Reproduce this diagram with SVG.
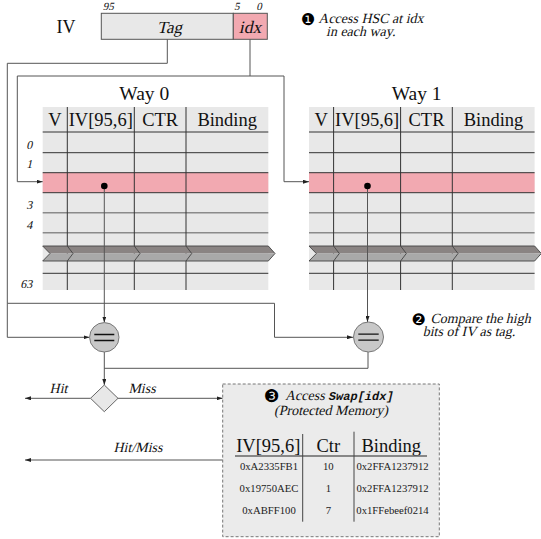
<svg xmlns="http://www.w3.org/2000/svg" width="541" height="539" viewBox="0 0 541 539">
<defs>
<marker id="ah" viewBox="0 0 6 4" refX="6" refY="2" markerWidth="6" markerHeight="4" orient="auto" markerUnits="userSpaceOnUse"><path d="M0,0 L6,2 L0,4 z" fill="#222"/></marker>
<g id="chev">
<polygon points="0,246 225.6,246 232.3,253.5 7.3,253.5" fill="#8a8483"/>
<polygon points="7.3,253.5 232.3,253.5 225.6,261 0,261" fill="#a9a9a9"/>
<path d="M0,246 H225.6 L232.3,253.5 L225.6,261 H0 L7.3,253.5 Z M24.6,246 L30.3,253.5 L24.6,261 M91.6,246 L97.3,253.5 L91.6,261 M143.3,246 L149,253.5 L143.3,261" fill="none" stroke="#444" stroke-width="0.9"/>
</g>
<g id="table">
<rect x="0" y="107" width="225.6" height="183" fill="#e8e8e8"/>
<rect x="0" y="172.7" width="225.6" height="20" fill="#f2a9b1"/>
<path class="dk" d="M0,132 H225.6 M0,152.7 H225.6 M0,172.7 H225.6 M0,192.7 H225.6 M0,273.3 H225.6"/>
<path class="gr" d="M0,212.7 H225.6 M0,232.7 H225.6"/>
<path class="dk" d="M24.6,107 V290 M91.6,107 V290 M143.3,107 V290"/>
<use href="#chev"/>
<text class="hd" x="12.3" y="126">V</text>
<text class="hd" x="58.1" y="126">IV[95,6]</text>
<text class="hd" x="117.5" y="126">CTR</text>
<text class="hd" x="184.5" y="126">Binding</text>
</g>
</defs>
<style>
.dk{stroke:#333;stroke-width:1;fill:none}
.gr{stroke:#8a8a8a;stroke-width:1.4;fill:none}
.hd{font-family:"Liberation Serif",serif;font-size:18.5px;text-anchor:middle;fill:#111}
.it{font-family:"Liberation Serif",serif;fill:#111}
.rm{font-family:"Liberation Serif",serif;fill:#111}
.num{font-family:"DejaVu Sans",sans-serif;fill:#000}
.con{stroke:#555;stroke-width:1;fill:none}
.arr{stroke:#555;stroke-width:1;fill:none;marker-end:url(#ah)}
.cell{font-family:"Liberation Serif",serif;font-size:10.7px;text-anchor:middle;fill:#222}
.mid{text-anchor:middle}
.end{text-anchor:end}
</style>

<g id="iv-register">
<text class="rm" x="66" y="33" font-size="18" text-anchor="middle">IV</text>
<rect x="101.3" y="13.3" width="132" height="26" fill="#e8e8e8" stroke="#555" stroke-width="1"/>
<rect x="233.3" y="13.3" width="34" height="26" fill="#f2a9b1" stroke="#555" stroke-width="1"/>
<text class="it mid" transform="translate(169.5,33) skewX(-13)" font-size="17">Tag</text>
<text class="it mid" transform="translate(250,33) skewX(-13)" font-size="17.5">idx</text>
<text class="it mid" transform="translate(108.3,9.5) skewX(-13)" font-size="11">95</text>
<text class="it mid" transform="translate(236.8,9.5) skewX(-13)" font-size="11">5</text>
<text class="it mid" transform="translate(259,9.5) skewX(-13)" font-size="11">0</text>
</g>

<g id="annotation-1">
<text x="301" y="25" class="num" font-size="16">❶</text>
<text class="it" transform="translate(318.3,22.5) skewX(-13)" font-size="14">Access HSC at idx</text>
<text class="it" transform="translate(326,35.5) skewX(-13)" font-size="14">in each way.</text>
</g>

<g id="way0">
<text class="rm" x="144.3" y="100" font-size="19.5" text-anchor="middle">Way 0</text>
<use href="#table" x="42.7"/>
<text class="it end" transform="translate(32.3,149) skewX(-13)" font-size="12">0</text>
<text class="it end" transform="translate(32.3,168) skewX(-13)" font-size="12">1</text>
<text class="it end" transform="translate(32.3,208.5) skewX(-13)" font-size="12">3</text>
<text class="it end" transform="translate(32.3,229) skewX(-13)" font-size="12">4</text>
<text class="it end" transform="translate(32.3,288) skewX(-13)" font-size="12">63</text>
</g>

<g id="way1">
<text class="rm" x="416.7" y="100" font-size="19.5" text-anchor="middle">Way 1</text>
<use href="#table" x="309"/>
</g>

<g id="connectors">
<path class="con" d="M167.3,39.3 V63.3 H7.3 V303.3 H274.5 V337.3"/>
<path class="arr" d="M7.3,303.3 V337.3 H89.5"/>
<path class="arr" d="M274.5,337.3 H353"/>
<path class="con" d="M250,39.3 V76 H17.3 M250,76 H284"/>
<path class="arr" d="M17.3,76 V181.7 H42.7"/>
<path class="arr" d="M284,76 V181.7 H309"/>
<path class="arr" d="M104.3,186 V322.5"/>
<path class="arr" d="M367.5,186 V322"/>
<path class="arr" d="M104.3,352 V385"/>
<path class="con" d="M368,352 V368.3 H104.3"/>
<path class="arr" d="M90.5,398.3 H25"/>
<path class="arr" d="M118,398.3 H222.7"/>
<path class="arr" d="M222.7,460 H25"/>
<circle cx="104.3" cy="186" r="3.3" fill="#000"/>
<circle cx="367.5" cy="186" r="3.3" fill="#000"/>
<text class="it mid" transform="translate(58.5,393.3) skewX(-13)" font-size="14">Hit</text>
<text class="it mid" transform="translate(142,393.3) skewX(-13)" font-size="14">Miss</text>
<text class="it mid" transform="translate(138,451.7) skewX(-13)" font-size="14">Hit/Miss</text>
</g>

<g id="cmp0">
<circle cx="104.3" cy="337.3" r="14.7" fill="#c8c8c8" stroke="#777" stroke-width="1"/>
<path d="M94.3,334.5 H114.3 M94.3,340.5 H114.3" stroke="#111" stroke-width="1.3"/>
</g>

<g id="cmp1">
<circle cx="368.5" cy="337" r="15" fill="#c8c8c8" stroke="#777" stroke-width="1"/>
<path d="M358.3,334.2 H378.7 M358.3,340.2 H378.7" stroke="#111" stroke-width="1.3"/>
</g>

<g id="annotation-2">
<text x="411.5" y="325" class="num" font-size="16">❷</text>
<text class="it" transform="translate(430.5,322.8) skewX(-13)" font-size="14">Compare the high</text>
<text class="it" transform="translate(422.7,336.3) skewX(-13)" font-size="14">bits of IV as tag.</text>
</g>

<g id="decision">
<polygon points="104.3,385 118,398.3 104.3,411.7 90.5,398.3" fill="#e8e8e8" stroke="#666" stroke-width="1"/>
</g>

<g id="swap-box">
<rect x="222.7" y="384" width="216.6" height="152.7" fill="#ebebeb" stroke="#777" stroke-width="1" stroke-dasharray="3,2"/>
<text x="264" y="402" class="num" font-size="17.5">❸</text>
<text class="it" transform="translate(285,399.5) skewX(-13)" font-size="14">Access <tspan font-family="'Liberation Mono',monospace" font-weight="bold" font-size="12">Swap[idx]</tspan></text>
<text class="it mid" transform="translate(331,414.5) skewX(-13)" font-size="14">(Protected Memory)</text>
<text class="hd" x="268.3" y="451.7">IV[95,6]</text>
<text class="hd" x="328.3" y="451.7">Ctr</text>
<text class="hd" x="391.3" y="451.7">Binding</text>
<path d="M235,456 H427" stroke="#666" stroke-width="1.3"/>
<path d="M302.7,434 V521.7 M354,431.7 V521.7" stroke="#444" stroke-width="1"/>
<text class="cell" x="269" y="470">0xA2335FB1</text>
<text class="cell" x="328.3" y="470">10</text>
<text class="cell" x="392.5" y="470">0x2FFA1237912</text>
<text class="cell" x="269" y="492">0x19750AEC</text>
<text class="cell" x="328.3" y="492">1</text>
<text class="cell" x="392.5" y="492">0x2FFA1237912</text>
<text class="cell" x="269" y="514.3">0xABFF100</text>
<text class="cell" x="328.3" y="514.3">7</text>
<text class="cell" x="392.5" y="514.3">0x1FFebeef0214</text>
</g>
</svg>
